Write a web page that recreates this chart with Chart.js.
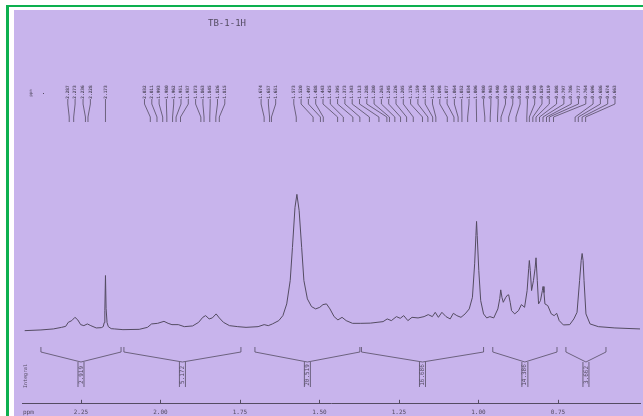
<!DOCTYPE html>
<html>
<head>
<meta charset="utf-8">
<script src="https://cdn.jsdelivr.net/npm/chart.js@4.4.1/dist/chart.umd.min.js"></script>
<style>
  html, body { margin: 0; padding: 0; background: #ffffff; }
  canvas { display: block; }
</style>
</head>
<body>
<canvas id="nmr" width="643" height="416"></canvas>
<script>
// 1H NMR spectrum of sample TB-1-1H
const spectrumTitle = 'TB-1-1H';

// Chemical shift (ppm) and relative intensity of the traced spectrum
const spectrumPpm = [
  2.427, 2.376, 2.337, 2.311, 2.298, 2.290, 2.279, 2.269, 2.260, 2.251,
  2.241, 2.230, 2.219, 2.202, 2.186, 2.180, 2.177, 2.175, 2.173, 2.171,
  2.168, 2.164, 2.155, 2.144, 2.118, 2.067, 2.041, 2.028, 2.009, 1.989,
  1.976, 1.964, 1.944, 1.925, 1.899, 1.880, 1.867, 1.858, 1.847, 1.837,
  1.825, 1.815, 1.802, 1.783, 1.757, 1.731, 1.693, 1.674, 1.661, 1.648,
  1.628, 1.615, 1.603, 1.592, 1.585, 1.577, 1.571, 1.564, 1.556, 1.549,
  1.538, 1.525, 1.512, 1.499, 1.489, 1.478, 1.467, 1.454, 1.442, 1.429,
  1.416, 1.396, 1.370, 1.340, 1.319, 1.300, 1.287, 1.274, 1.258, 1.246,
  1.235, 1.222, 1.209, 1.190, 1.171, 1.158, 1.145, 1.136, 1.126, 1.115,
  1.102, 1.089, 1.079, 1.068, 1.055, 1.042, 1.029, 1.019, 1.012, 1.008,
  1.006, 1.004, 0.999, 0.993, 0.984, 0.974, 0.964, 0.952, 0.939, 0.933,
  0.930, 0.926, 0.922, 0.914, 0.908, 0.905, 0.900, 0.896, 0.886, 0.874,
  0.865, 0.855, 0.847, 0.842, 0.840, 0.837, 0.833, 0.827, 0.822, 0.819,
  0.815, 0.811, 0.805, 0.799, 0.797, 0.794, 0.791, 0.782, 0.771, 0.762,
  0.754, 0.746, 0.733, 0.713, 0.700, 0.690, 0.682, 0.677, 0.674, 0.671,
  0.668, 0.662, 0.649, 0.623, 0.571, 0.492
];
const spectrumIntensity = [
  0, 0.7, 1.7, 3.3, 4.3, 8.3, 10, 13.3, 10.7, 6,
  5, 6.7, 5, 2.7, 3, 4, 8, 20, 55, 22,
  8, 4, 2, 1.7, 1, 1.3, 3.3, 6.7, 7.3, 9.3,
  7.3, 6, 6, 4, 4.7, 8.3, 13.3, 15, 11.7, 12.7,
  16.7, 12.7, 8.3, 5, 4, 3.3, 4, 6, 5, 6.7,
  10, 15, 26.7, 50, 83, 123, 136, 120, 83, 50,
  31.7, 24, 21.7, 23.3, 26, 26.7, 21.7, 14, 10.7, 13.3,
  10, 7.3, 7.3, 7.5, 8.3, 9, 11.7, 10, 14, 12.3,
  15, 10, 13.3, 12.7, 14, 16, 14, 18.3, 13.3, 18.3,
  14, 11.7, 17.3, 15, 13.3, 16.7, 21.7, 33.3, 66.7, 95,
  109, 95, 60, 30, 16.7, 12.7, 14, 12.7, 21.7, 32,
  40.7, 33, 28.3, 33.3, 35.7, 35.7, 28, 20, 16.7, 20,
  26, 23.3, 40, 62, 70, 60, 40, 50, 62, 72.7,
  50, 26.7, 30, 40, 44, 38, 26.7, 25, 16.7, 15,
  17.3, 10, 5.7, 6, 11.7, 18.3, 50, 70, 77, 70,
  50, 16.7, 6.7, 4, 2.7, 1.7
];

// Picked peaks (ppm)
const peakPpm = [
  2.287, 2.273, 2.236, 2.228,
  2.173,
  2.032, 2.011, 1.993, 1.980, 1.962, 1.951, 1.937,
  1.873, 1.863, 1.845, 1.826, 1.815,
  1.674, 1.657, 1.651,
  1.573, 1.520, 1.497, 1.488, 1.443, 1.425, 1.395, 1.373, 1.343, 1.313,
  1.288, 1.280, 1.263, 1.245, 1.226, 1.205, 1.176, 1.159, 1.144, 1.134,
  1.098, 1.077, 1.064, 1.052, 1.034, 1.006,
  0.980, 0.963, 0.940, 0.929, 0.905, 0.882,
  0.848, 0.840, 0.829, 0.819, 0.808, 0.797, 0.786, 0.777, 0.764,
  0.696, 0.686, 0.674, 0.663
];

// Integration regions (ppm) and integrals
const integralStart = [2.376, 2.115, 1.703, 1.368, 0.955, 0.725];
const integralEnd   = [2.124, 1.747, 1.373, 0.984, 0.753, 0.599];
const integralValues = ['2.919', '5.172', '20.519', '16.686', '14.386', '3.662'];

// Axis ticks
const tickValues = [2.25, 2.00, 1.75, 1.50, 1.25, 1.00, 0.75];
const tickLabels = ['2.25', '2.00', '1.75', '1.50', '1.25', '1.00', '0.75'];

const INK = '#544c62';
const MONO = '"DejaVu Sans Mono", "Liberation Mono", monospace';

// Page frame: white sheet, green border, lavender plot paper
const framePlugin = {
  id: 'frame',
  beforeDraw(chart) {
    const ctx = chart.ctx;
    ctx.save();
    ctx.fillStyle = '#ffffff';
    ctx.fillRect(0, 0, chart.width, chart.height);
    ctx.fillStyle = '#0db04f';
    ctx.fillRect(6, 5, chart.width - 6, 2);
    ctx.fillRect(6, 5, 3, chart.height - 5);
    ctx.fillStyle = '#c8b4ec';
    ctx.fillRect(14, 10, chart.width - 14, chart.height - 10);
    ctx.restore();
  }
};

function vText(ctx, text, x, y, font) {
  ctx.save();
  ctx.translate(x, y);
  ctx.rotate(-Math.PI / 2);
  ctx.font = font;
  ctx.textAlign = 'center';
  ctx.textBaseline = 'middle';
  ctx.fillText(text, 0, 0);
  ctx.restore();
}

// Spread peak labels into clusters centred on their peaks
function layoutLabels(px, gap) {
  let clusters = px.map((p, i) => ({ first: i, n: 1, sum: p }));
  const pos = c => {
    const centre = c.sum / c.n;
    return { lo: centre - (c.n - 1) * gap / 2, hi: centre + (c.n - 1) * gap / 2 };
  };
  let merged = true;
  while (merged) {
    merged = false;
    for (let i = 0; i < clusters.length - 1; i++) {
      const a = clusters[i], b = clusters[i + 1];
      if (pos(a).hi + gap > pos(b).lo) {
        clusters.splice(i, 2, { first: a.first, n: a.n + b.n, sum: a.sum + b.sum });
        merged = true;
        break;
      }
    }
  }
  const out = [];
  clusters.forEach(c => {
    const lo = pos(c).lo;
    for (let k = 0; k < c.n; k++) out[c.first + k] = lo + k * gap;
  });
  return out;
}

const annotatePlugin = {
  id: 'annotate',
  afterDraw(chart) {
    const ctx = chart.ctx;
    const xs = chart.scales.x;
    const area = chart.chartArea;
    ctx.save();
    ctx.fillStyle = INK;
    ctx.strokeStyle = INK;

    // title
    ctx.font = '9px ' + MONO;
    ctx.textAlign = 'center';
    ctx.textBaseline = 'middle';
    ctx.fillText(spectrumTitle, 227, 24);

    // peak labels with leader lines
    vText(ctx, 'ppm', 31, 93, '4px ' + MONO);
    ctx.fillRect(43, 93, 1, 1);
    const peakPx = peakPpm.map(p => xs.getPixelForValue(p));
    const labelPx = layoutLabels(peakPx, 7.3);
    ctx.lineWidth = 0.8;
    peakPpm.forEach((p, i) => {
      const lx = labelPx[i], px = peakPx[i];
      vText(ctx, p.toFixed(3), lx, 92, 'bold 4.5px ' + MONO);
      ctx.beginPath();
      ctx.moveTo(lx, 99);
      ctx.lineTo(lx, 104);
      ctx.lineTo(px, 117);
      ctx.lineTo(px, 122);
      ctx.stroke();
    });

    // integral brackets
    vText(ctx, 'Integral', 26, 376, '5px ' + MONO);
    ctx.lineWidth = 0.8;
    integralValues.forEach((v, i) => {
      const x1 = xs.getPixelForValue(integralStart[i]);
      const x2 = xs.getPixelForValue(integralEnd[i]);
      const xc = (x1 + x2) / 2;
      ctx.beginPath();
      ctx.moveTo(x1, 347);
      ctx.lineTo(x1, 352);
      ctx.lineTo(xc, 362);
      ctx.lineTo(x2, 352);
      ctx.lineTo(x2, 347);
      ctx.moveTo(xc - 3, 362);
      ctx.lineTo(xc - 3, 387);
      ctx.moveTo(xc + 3, 362);
      ctx.lineTo(xc + 3, 387);
      ctx.stroke();
      vText(ctx, v, xc, 375, '6px ' + MONO);
    });

    // axis ticks pointing up, axis unit
    ctx.lineWidth = 1;
    tickValues.forEach(t => {
      const x = Math.round(xs.getPixelForValue(t)) + 0.5;
      ctx.beginPath();
      ctx.moveTo(x, area.bottom);
      ctx.lineTo(x, area.bottom - 4);
      ctx.stroke();
    });
    ctx.font = '6px ' + MONO;
    ctx.textAlign = 'left';
    ctx.textBaseline = 'middle';
    ctx.fillText('ppm', 23, 412);
    ctx.restore();
  }
};

new Chart(document.getElementById('nmr'), {
  type: 'line',
  data: {
    datasets: [{
      data: spectrumPpm.map((x, i) => ({ x, y: spectrumIntensity[i] })),
      borderColor: INK,
      borderWidth: 1,
      pointRadius: 0,
      pointHoverRadius: 0,
      tension: 0,
      fill: false
    }]
  },
  options: {
    responsive: false,
    animation: false,
    devicePixelRatio: 1,
    layout: { autoPadding: false, padding: { left: 22, right: 3, top: 10, bottom: -5 } },
    plugins: { legend: { display: false }, tooltip: { enabled: false } },
    scales: {
      x: {
        type: 'linear',
        reverse: true,
        min: 0.492,
        max: 2.4355,
        afterBuildTicks: s => { s.ticks = tickValues.map(v => ({ value: v })); },
        ticks: {
          autoSkip: false,
          maxRotation: 0,
          padding: 5,
          color: INK,
          font: { family: MONO, size: 6 },
          callback: v => {
            const k = tickValues.findIndex(t => Math.abs(t - v) < 1e-9);
            return k >= 0 ? tickLabels[k] : '';
          }
        },
        grid: { display: false, drawTicks: false },
        border: { display: true, color: INK, width: 1 }
      },
      y: { display: false, min: -73, max: 320 }
    }
  },
  plugins: [framePlugin, annotatePlugin]
});
</script>
</body>
</html>
